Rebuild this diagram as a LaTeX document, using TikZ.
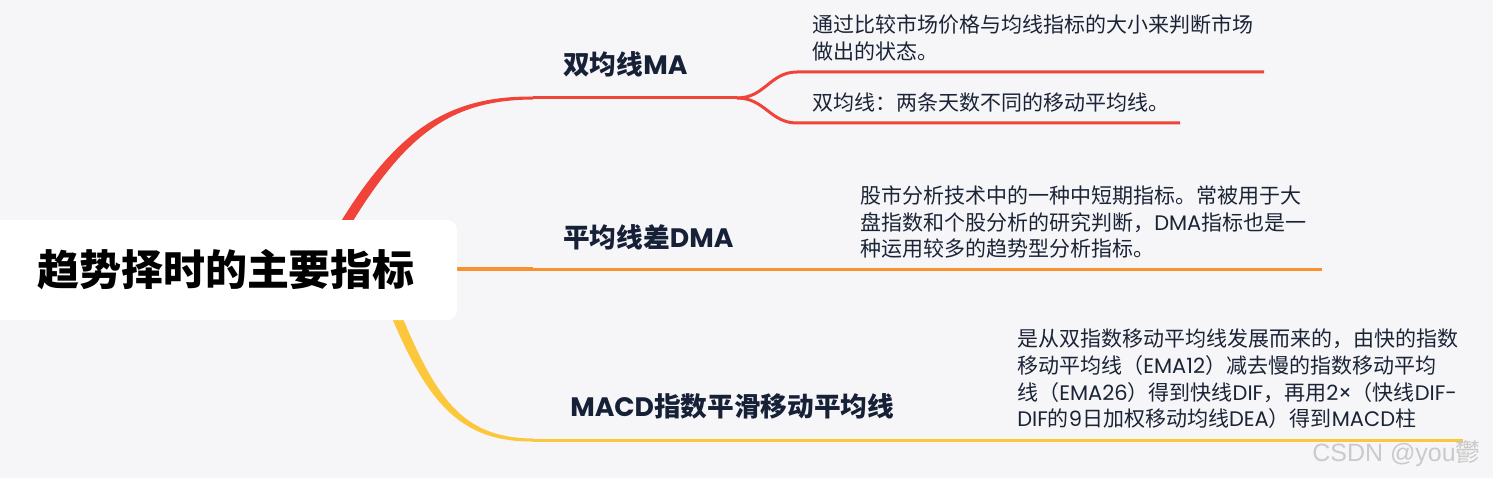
\documentclass[tikz,border=0pt]{standalone}
\usepackage{fontspec}
\newfontfamily\cjk{Noto Sans CJK SC}
\newfontfamily\pop{Poppins}
\newfontfamily\wmfont{Liberation Sans}
\newcommand{\lt}[1]{{\pop #1}}
\definecolor{bgc}{HTML}{F6F6F8}
\definecolor{redc}{HTML}{F0433A}
\definecolor{orc}{HTML}{F7922F}
\definecolor{yelc}{HTML}{FCC73A}
\definecolor{navy}{HTML}{162036}
\definecolor{desct}{HTML}{1B2437}
\definecolor{wmc}{HTML}{CACACA}
\tikzset{
  titletext/.style={inner sep=0pt, text=black, font=\cjk\bfseries\fontsize{31.5}{36}\selectfont},
  lbl/.style={inner sep=0pt, anchor=west, text=navy, font=\cjk\bfseries\fontsize{20}{24}\selectfont},
  desc/.style={inner sep=0pt, anchor=west, align=left, text=desct, font=\cjk\fontsize{15.75}{20}\selectfont},
  thin/.style={line width=2.25pt},
}
\begin{document}
\begin{tikzpicture}[x=0.75pt,y=-0.75pt]
\useasboundingbox (0,0) rectangle (1493,478);
\fill[bgc] (0,0) rectangle (1493,478);

% named coordinates
\coordinate (ma0) at (533,98);
\coordinate (mab) at (737,98);
\coordinate (ma1s) at (797,72);
\coordinate (ma1e) at (1264,72);
\coordinate (ma2s) at (797,123);
\coordinate (ma2e) at (1180,123);
\coordinate (dm0) at (457,269);
\coordinate (dm1) at (533,269);
\coordinate (dme) at (1322,269);
\coordinate (mc0) at (533,440);
\coordinate (mce) at (1463,440);

% red trunk (tapered)
\fill[redc] (325.6,247.5) .. controls (390.6,132.5) and (444,96) .. (533,96.5)
   -- (533,99.5) .. controls (446,100) and (399.4,137.5) .. (334.4,252.5) -- cycle;
\draw[redc, thin] (ma0) -- (mab);
\draw[redc, thin] (mab) .. controls (765,98) and (770,72) .. (ma1s) -- (ma1e);
\draw[redc, thin] (mab) .. controls (765,98) and (770,123) .. (ma2s) -- (ma2e);

% yellow trunk (tapered)
\fill[yelc] (385.4,301.9) .. controls (425.4,401.9) and (459,442) .. (533,441.5)
   -- (533,438.5) .. controls (461,438) and (434.6,398.1) .. (394.6,298.1) -- cycle;
\draw[yelc, thin] (mc0) -- (mce);

% orange
\draw[orc, line width=3.6pt] (dm0) -- (dm1);
\draw[orc, thin] (dm1) -- (dme);

% title box
\fill[white, rounded corners=7.5pt] (-20,220) rectangle (457,320);
\node[titletext] (root) at (226,270) {趋势择时的主要指标};

% branch labels
\node[lbl] (ma) at (563,64) {双均线\lt{MA}};
\node[lbl] (dma) at (563,237) {平均线差\lt{DMA}};
\node[lbl] (macd) at (570,406) {\lt{MACD}指数平滑移动平均线};

% descriptions
\node[desc] (d1) at (812,38) {通过比较市场价格与均线指标的大小来判断市场\\做出的状态。};
\node[desc] (d2) at (812,103) {双均线：两条天数不同的移动平均线。};
\node[desc] (d3) at (860,222) {股市分析技术中的一种中短期指标。常被用于大\\盘指数和个股分析的研究判断，\lt{DMA}指标也是一\\种运用较多的趋势型分析指标。};
\node[desc] (d4) at (1017,379) {是从双指数移动平均线发展而来的，由快的指数\\移动平均线（\lt{EMA12}）减去慢的指数移动平均\\线（\lt{EMA26}）得到快线\lt{DIF}，再用\lt{2×}（快线\lt{DIF-}\\\lt{DIF}的\lt{9}日加权移动均线\lt{DEA}）得到\lt{MACD}柱};

% watermark
\node[inner sep=0pt, anchor=base west, text=wmc, font=\fontsize{18.75}{22}\selectfont] (wm) at (1312,461) {{\wmfont CSDN @you}{\cjk 鬱}};
\end{tikzpicture}
\end{document}
